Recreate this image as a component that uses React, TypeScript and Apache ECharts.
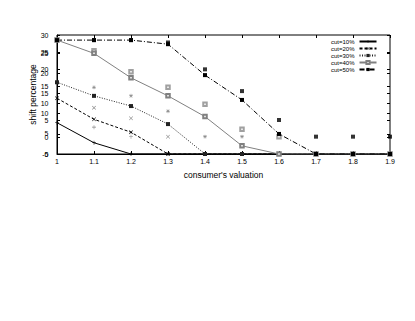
import React, { useEffect, useRef } from "react";
import * as echarts from "echarts";

const categories = ["1", "1.1", "1.2", "1.3", "1.4", "1.5", "1.6", "1.7", "1.8", "1.9"];
const seriesNames = ["cut=10%", "cut=20%", "cut=30%", "cut=40%", "cut=50%"];

const line10 = [4.2, -1.7, -5, -5, -5, -5, -5, -5, -5, -5];
const line20 = [11.4, 5.2, 1.4, -5, -5, -5, -5, -5, -5, -5];
const line30 = [16.1, 12.1, 9.1, 3.8, -5, -5, -5, -5, -5, -5];
const line40 = [28.5, 24.6, 17.4, 12.1, 6.0, -2.6, -5, -5, -5, -5];
const line50 = [28.5, 28.5, 28.5, 27.3, 18.2, 10.9, 0.9, -5, -5, -5];

const scatter10 = [null, 2.9, 0.1, null, null, null, null, null, null, null];
const scatter20 = [null, 8.6, 5.5, 0.1, null, null, null, null, null, null];
const scatter30 = [null, 14.6, 12.1, 7.6, 0.1, 0.1, null, null, null, null];
const scatter40 = [null, 25.4, 19.2, 14.6, 9.6, 2.3, 0.1, null, null, null];
const scatter50 = [28.5, 28.5, 28.5, 27.8, 19.9, 13.5, 5.0, 0.1, 0.1, 0.1];

const PLUS = "path://M4.3,0H5.7V4.3H10V5.7H5.7V10H4.3V5.7H0V4.3H4.3Z";
const CROSS = "path://M1,0L5,4L9,0L10,1L6,5L10,9L9,10L5,6L1,10L0,9L4,5L0,1Z";
const STAR = "path://M4.4,0H5.6V3.6L8.2,1L9,1.8L6.4,4.4H10V5.6H6.4L9,8.2L8.2,9L5.6,6.4V10H4.4V6.4L1.8,9L1,8.2L3.6,5.6H0V4.4H3.6L1,1.8L1.8,1L4.4,3.6Z";

export default function App() {
  const ref = useRef<HTMLDivElement>(null);
  useEffect(() => {
    if (!ref.current) return;
    const chart = echarts.init(ref.current, null, { renderer: "svg" });
    const font = "Liberation Sans, Arial, sans-serif";
    const lines = [line10, line20, line30, line40, line50];
    const scatters = [scatter10, scatter20, scatter30, scatter40, scatter50];
    const symbols = [PLUS, CROSS, "rect", "emptyRect", "rect"];
    const colors = ["#000", "#000", "#222", "#808080", "#000"];
    const lineTypes: any[] = ["solid", [3, 2], [1, 1.5], "solid", [5, 2, 1, 2]];
    const scatterColors = ["#666", "#666", "#666", "#888", "#000"];
    const scatterSymbols = [PLUS, CROSS, STAR, "emptyRect", "rect"];
    const series: any[] = [];
    lines.forEach((d, i) => {
      series.push({
        name: seriesNames[i],
        type: "line",
        data: d,
        yAxisIndex: 0,
        symbol: symbols[i],
        symbolSize: i === 3 ? 3.5 : 4,
        showAllSymbol: true,
        lineStyle: { color: colors[i], width: 1, type: lineTypes[i] },
        itemStyle: { color: colors[i], borderColor: colors[i], borderWidth: i === 3 ? 0.8 : 0 },
        z: 3,
      });
    });
    scatters.forEach((d, i) => {
      series.push({
        name: "s" + i,
        type: "scatter",
        data: d,
        yAxisIndex: 0,
        symbol: scatterSymbols[i],
        symbolSize: i === 3 ? 3.5 : 4,
        itemStyle: { color: scatterColors[i], borderColor: scatterColors[i], borderWidth: i === 3 ? 0.8 : 0 },
        z: 2,
      });
    });
    const tick = { show: true, inside: true, length: 3, lineStyle: { color: "#000" } };
    chart.setOption({
      animation: false,
      textStyle: { fontFamily: font },
      grid: { left: 57, right: 25, top: 35, bottom: 167, show: true, borderColor: "#000", borderWidth: 1 },
      legend: {
        data: seriesNames,
        orient: "vertical",
        left: 331,
        top: 38.5,
        align: "right",
        itemWidth: 17,
        itemHeight: 4,
        itemGap: 1,
        textStyle: { fontSize: 6, color: "#000", fontFamily: font, lineHeight: 4, padding: [0, 0, 0, 0] },
        padding: 0,
      },
      xAxis: [
        {
          type: "category",
          data: categories,
          boundaryGap: false,
          name: "consumer's valuation",
          nameLocation: "middle",
          nameGap: 16.5,
          nameMoveOverlap: false,
          nameTextStyle: { fontSize: 8.5, color: "#000" },
          axisLine: { onZero: false, lineStyle: { color: "#000", width: 1 } },
          axisTick: tick,
          axisLabel: { fontSize: 7, color: "#000", margin: 4 },
        },
        {
          type: "category",
          data: categories,
          boundaryGap: false,
          position: "top",
          axisLine: { show: false, onZero: false },
          axisTick: tick,
          axisLabel: { show: false },
        },
      ],
      yAxis: [
        {
          type: "value",
          min: -5,
          max: 30,
          interval: 5,
          name: "shift percentage",
          nameLocation: "middle",
          nameGap: 20,
          nameMoveOverlap: false,
          nameTextStyle: { fontSize: 8.5, color: "#000" },
          axisLine: { show: true, onZero: false, lineStyle: { color: "#000" } },
          axisTick: tick,
          axisLabel: { fontSize: 7, color: "#000", margin: 8.5 },
          splitLine: { show: false },
        },
        {
          type: "value",
          min: 0,
          max: 29.5,
          interval: 5,
          position: "left",
          axisLine: { show: false, onZero: false },
          axisTick: tick,
          axisLabel: { fontSize: 7, color: "#000", margin: 8.5, showMaxLabel: false },
          splitLine: { show: false },
        },
        {
          type: "value",
          min: -5,
          max: 30,
          interval: 5,
          position: "right",
          axisLine: { show: false, onZero: false },
          axisTick: tick,
          axisLabel: { show: false },
          splitLine: { show: false },
        },
        {
          type: "value",
          min: 0,
          max: 29.5,
          interval: 5,
          position: "right",
          axisLine: { show: false, onZero: false },
          axisTick: tick,
          axisLabel: { show: false },
          splitLine: { show: false },
        },
      ],
      series,
    });
    return () => chart.dispose();
  }, []);
  return <div ref={ref} style={{ width: 415, height: 321, marginLeft: -8, marginTop: -8 }} />;
}
